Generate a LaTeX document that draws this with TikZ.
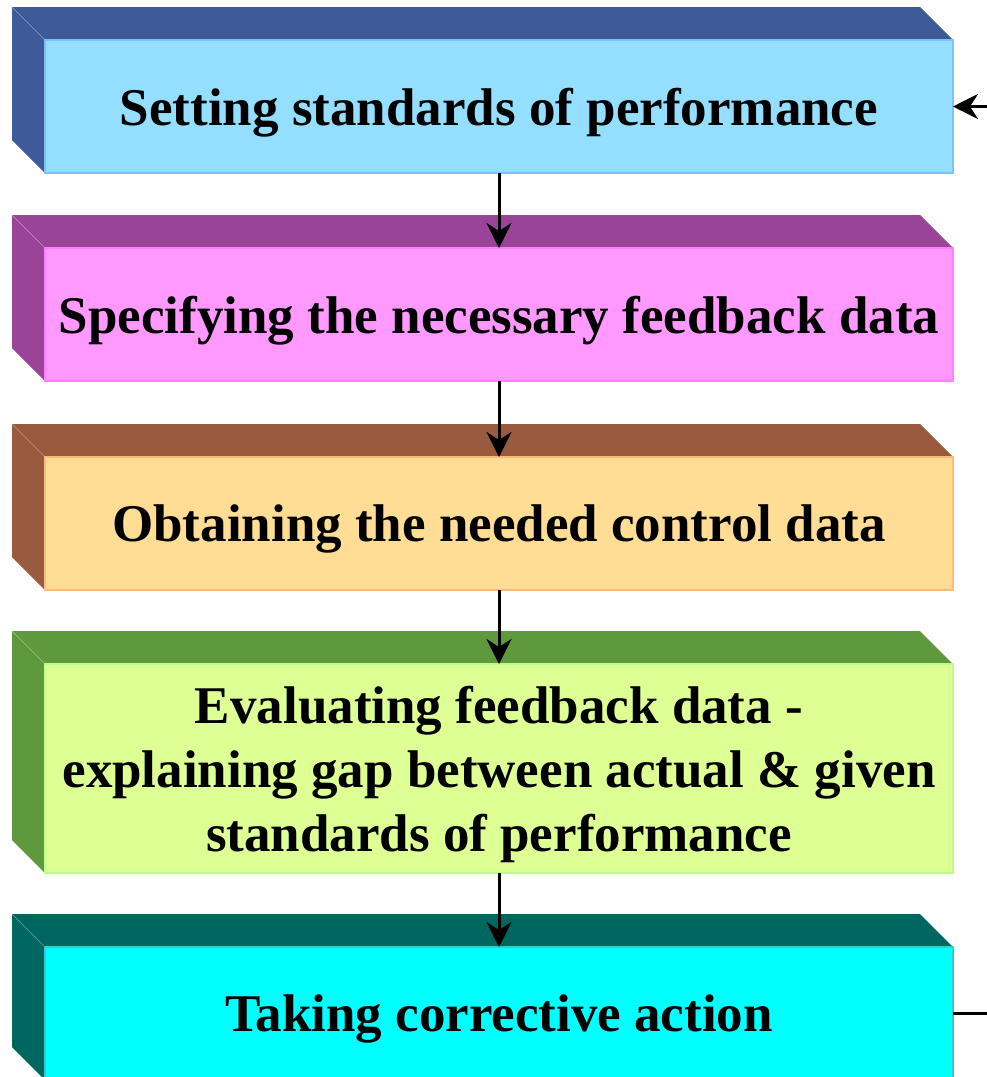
\documentclass[tikz,border=0pt]{standalone}
\usepackage{fontspec}
\setmainfont{Liberation Serif}
\usetikzlibrary{arrows.meta,backgrounds}
\definecolor{f1}{HTML}{94DFFF}\definecolor{e1}{HTML}{7FBFFF}\definecolor{s1}{HTML}{3D5A99}
\definecolor{f2}{HTML}{FF99FF}\definecolor{e2}{HTML}{FF80FF}\definecolor{s2}{HTML}{994499}
\definecolor{f3}{HTML}{FFDD94}\definecolor{e3}{HTML}{FFBB77}\definecolor{s3}{HTML}{995A3D}
\definecolor{f4}{HTML}{DDFF94}\definecolor{e4}{HTML}{BBFF88}\definecolor{s4}{HTML}{5E993D}
\definecolor{f5}{HTML}{00FFFF}\definecolor{e5}{HTML}{33CCCC}\definecolor{s5}{HTML}{006660}
\tikzset{
  frontbox/.style={line width=2pt, minimum width=908, minimum height=133, inner sep=0pt,
    outer sep=0pt, anchor=north west, align=center, text depth=-2.5pt,
    font=\bfseries\fontsize{53}{64}\selectfont},
  conn/.style={line width=3pt, -{Stealth[length=25pt,width=25pt,inset=8pt]}},
  plainconn/.style={line width=3pt}
}
\newcommand{\sidefaces}[2]{%
  \fill[#2] (#1.south west) -- ([shift={(-33,-33)}]#1.south west)
    -- ([shift={(-33,-33)}]#1.north west) -- ([shift={(-33,-33)}]#1.north east)
    -- (#1.north east) -- cycle;
  \draw[#2!60!white, line width=0.6pt] ([shift={(-33,-33)}]#1.north west) -- (#1.north west);
}
\begin{document}
\begin{tikzpicture}[x=1pt,y=-1pt]
\useasboundingbox (0,0) rectangle (987,1077);
\clip (0,0) rectangle (987,1077);
\node[frontbox, fill=f1, draw=e1] (b1) at (45,40) {Setting standards of performance};
\node[frontbox, fill=f2, draw=e2] (b2) at (45,248) {Specifying the necessary feedback data};
\node[frontbox, fill=f3, draw=e3] (b3) at (45,457) {Obtaining the needed control data};
\node[frontbox, fill=f4, draw=e4, minimum height=209] (b4) at (45,664) {Evaluating feedback data -\\explaining gap between actual \& given\\standards of performance};
\node[frontbox, fill=f5, draw=e5] (b5) at (45,947) {Taking corrective action};
\begin{scope}[on background layer]
\sidefaces{b1}{s1}
\sidefaces{b2}{s2}
\sidefaces{b3}{s3}
\sidefaces{b4}{s4}
\sidefaces{b5}{s5}
\end{scope}
\draw[conn] (b1.south) -- (b2.north);
\draw[conn] (b2.south) -- (b3.north);
\draw[conn] (b3.south) -- (b4.north);
\draw[conn] (b4.south) -- (b5.north);
\coordinate (rin) at (990,106.5);
\coordinate (rout) at (990,1013.5);
\draw[conn] (rin) -- (b1.east);
\draw[plainconn] (b5.east) -- (rout);
\end{tikzpicture}
\end{document}
